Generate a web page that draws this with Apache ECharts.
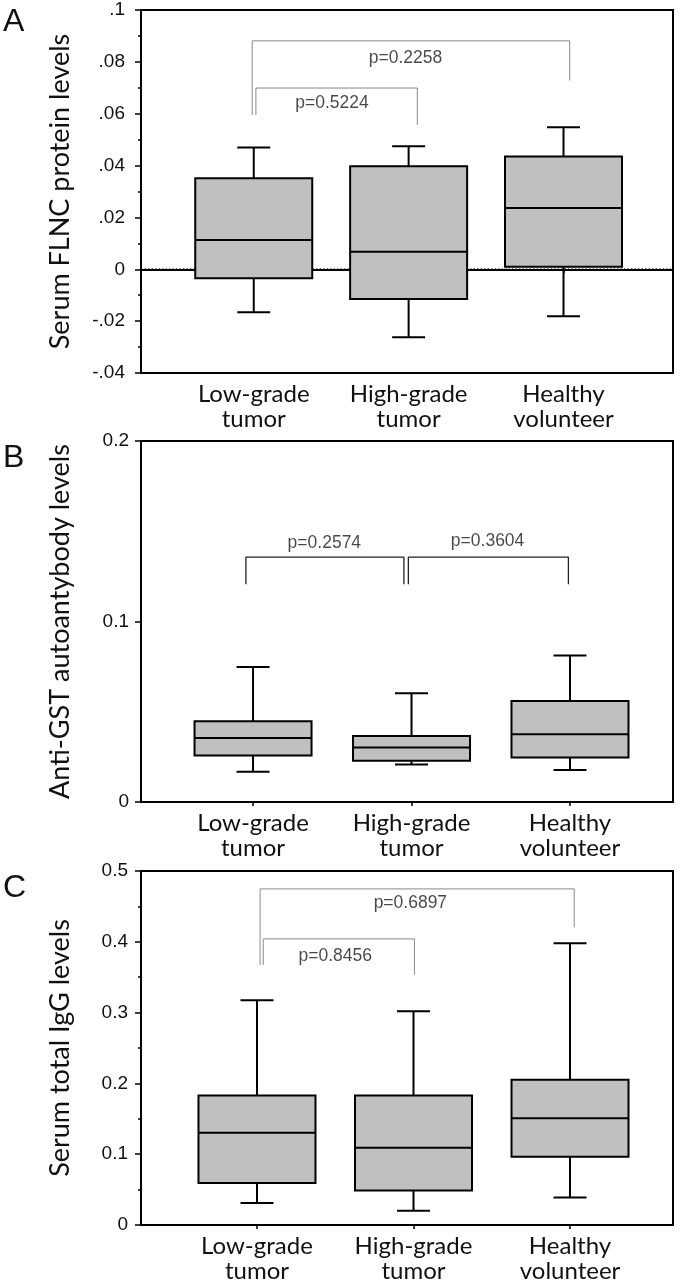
<!DOCTYPE html>
<html><head><meta charset="utf-8">
<script src="https://cdn.jsdelivr.net/npm/echarts@6/dist/echarts.min.js"></script>
<style>html,body{margin:0;padding:0;background:#fff}#c{width:685px;height:1284px}</style>
</head><body><div id="c"></div>
<script>
// ---------- data ----------
const categories = ['Low-grade\ntumor', 'High-grade\ntumor', 'Healthy\nvolunteer'];
const catPos = [1, 2, 3];
// [x, whiskerLow, Q1, median, Q3, whiskerHigh]
const boxA = [[1, -0.0166, -0.0035, 0.0113, 0.0351, 0.0470],
              [2, -0.0262, -0.0115, 0.0068, 0.0397, 0.0475],
              [3, -0.0181, 0.0010, 0.0236, 0.0435, 0.0548]];
const boxB = [[1, 0.0168, 0.0258, 0.0354, 0.0448, 0.0748],
              [2, 0.0208, 0.0229, 0.0302, 0.0365, 0.0603],
              [3, 0.0177, 0.0247, 0.0376, 0.0560, 0.0811]];
const boxC = [[1, 0.0309, 0.0594, 0.1304, 0.1830, 0.3175],
              [2, 0.0203, 0.0488, 0.1092, 0.1830, 0.3018],
              [3, 0.0387, 0.0963, 0.1507, 0.2050, 0.3980]];
const tickValsA = [-0.04, -0.02, 0, 0.02, 0.04, 0.06, 0.08, 0.1];
const tickLabelsA = ['-.04', '-.02', '0', '.02', '.04', '.06', '.08', '.1'];
const tickValsB = [0, 0.1, 0.2];
const tickLabelsB = ['0', '0.1', '0.2'];
const tickValsC = [0, 0.1, 0.2, 0.3, 0.4, 0.5];
const tickLabelsC = ['0', '0.1', '0.2', '0.3', '0.4', '0.5'];
const axisNames = ['Serum FLNC protein levels', 'Anti-GST autoantybody levels', 'Serum total IgG levels'];
const panelLetters = ['A', 'B', 'C'];
// comparison brackets: polyline points and p-value label
const bracketsA = [
  {pts: [[0.99, 0.0595], [0.99, 0.0881], [3.04, 0.0881], [3.04, 0.0728]], p: 'p=0.2258', at: [1.98, 0.0815]},
  {pts: [[1.014, 0.0595], [1.014, 0.0699], [2.056, 0.0699], [2.056, 0.0557]], p: 'p=0.5224', at: [1.505, 0.0641]}
];
const bracketsB = [
  {pts: [[0.955, 0.1206], [0.955, 0.1357], [1.952, 0.1357], [1.952, 0.1206]], p: 'p=0.2574', at: [1.45, 0.1436]},
  {pts: [[1.98, 0.1206], [1.98, 0.1357], [2.99, 0.1357], [2.99, 0.1206]], p: 'p=0.3604', at: [2.48, 0.1447]}
];
const bracketsC = [
  {pts: [[1.02, 0.3673], [1.02, 0.4747], [3.027, 0.4747], [3.027, 0.4203]], p: 'p=0.6897', at: [1.98, 0.4539]},
  {pts: [[1.04, 0.3673], [1.04, 0.4041], [2.006, 0.4041], [2.006, 0.3535]], p: 'p=0.8456', at: [1.50, 0.3800]}
];
const zeroLineA = [[0.272, 0], [3.707, 0]];

// ---------- layout / style ----------
const panels = [
  {top: 10, height: 363, xMin: 0.272, xMax: 3.707, yMin: -0.04, yMax: 0.1, interval: 0.02, minor: true,
   ticks: tickValsA, labels: tickLabelsA, boxes: boxA, brackets: bracketsA, bColor: '#8a8a8a', bWidth: 1, nameGap: 67, lblMargin: 16},
  {top: 441, height: 361, xMin: 0.293, xMax: 3.65, yMin: 0, yMax: 0.2, interval: 0.1, minor: false,
   ticks: tickValsB, labels: tickLabelsB, boxes: boxB, brackets: bracketsB, bColor: '#222', bWidth: 1.3, nameGap: 67, lblMargin: 12},
  {top: 871, height: 361, xMin: 0.259, xMax: 3.658, yMin: 0, yMax: 0.5, interval: 0.1, minor: true,
   ticks: tickValsC, labels: tickLabelsC, boxes: boxC, brackets: bracketsC, bColor: '#8a8a8a', bWidth: 1, nameGap: 67, lblMargin: 13}
];
const BOX_W = 117, CAP_W = 33;
const labelFont = 'Lato, "Open Sans", sans-serif';
const numFont = '"Liberation Sans", Arial, sans-serif';

function renderBox(params, api) {
  const x = api.value(0);
  const lo = api.coord([x, api.value(1)]);
  const q1 = api.coord([x, api.value(2)]);
  const md = api.coord([x, api.value(3)]);
  const q3 = api.coord([x, api.value(4)]);
  const hi = api.coord([x, api.value(5)]);
  const cx = md[0], hw = BOX_W / 2, cw = CAP_W / 2;
  const ls = {stroke: '#000', lineWidth: 2};
  return {type: 'group', children: [
    {type: 'line', shape: {x1: cx, y1: q3[1], x2: cx, y2: hi[1]}, style: ls},
    {type: 'line', shape: {x1: cx - cw, y1: hi[1], x2: cx + cw, y2: hi[1]}, style: ls},
    {type: 'line', shape: {x1: cx, y1: q1[1], x2: cx, y2: lo[1]}, style: ls},
    {type: 'line', shape: {x1: cx - cw, y1: lo[1], x2: cx + cw, y2: lo[1]}, style: ls},
    {type: 'rect', shape: {x: cx - hw, y: q3[1], width: BOX_W, height: q1[1] - q3[1]},
     style: {fill: '#c0c0c0', stroke: '#000', lineWidth: 2}},
    {type: 'line', shape: {x1: cx - hw, y1: md[1], x2: cx + hw, y2: md[1]}, style: ls}
  ]};
}

const grid = [], xAxis = [], yAxis = [], series = [], graphic = [];
panels.forEach((p, i) => {
  grid.push({left: 141, right: 12, top: p.top, height: p.height, show: true,
             borderColor: '#000', borderWidth: 2, backgroundColor: 'transparent', containLabel: false});
  xAxis.push({type: 'value', gridIndex: i, min: p.xMin, max: p.xMax,
    splitLine: {show: false},
    axisLine: {show: true, lineStyle: {color: '#000', width: 2}},
    axisTick: {show: true, customValues: catPos, length: 4, lineStyle: {color: '#000', width: 1.5}},
    axisLabel: {show: true, customValues: catPos, margin: 9,
      formatter: v => categories[Math.round(v) - 1],
      fontFamily: labelFont, fontSize: 24, lineHeight: 25, color: '#111'}
  });
  yAxis.push({type: 'value', gridIndex: i, min: p.yMin, max: p.yMax, interval: p.interval,
    name: axisNames[i], nameLocation: 'middle', nameGap: p.nameGap, nameRotate: 90,
    nameTextStyle: {fontFamily: labelFont, fontSize: 27, color: '#111'},
    splitLine: {show: false},
    axisLine: {show: true, lineStyle: {color: '#000', width: 2}},
    axisTick: {show: true, length: 6, lineStyle: {color: '#000', width: 1.5}},
    minorTick: {show: p.minor, splitNumber: 2, length: 3, lineStyle: {color: '#000', width: 1.5}},
    axisLabel: {margin: p.lblMargin, fontFamily: numFont, fontSize: 19, color: '#111',
      formatter: v => { const k = p.ticks.findIndex(t => Math.abs(t - v) < 1e-9); return k >= 0 ? p.labels[k] : ''; }}
  });
  if (i === 0) {
    series.push({type: 'line', xAxisIndex: i, yAxisIndex: i, data: zeroLineA, symbol: 'none', z: 1,
      lineStyle: {color: '#000', width: 1.5, type: [1.5, 2]}, silent: true});
  }
  series.push({type: 'custom', xAxisIndex: i, yAxisIndex: i, data: p.boxes, renderItem: renderBox,
    encode: {x: 0, y: [1, 2, 3, 4, 5]}, z: 3, clip: false});
  p.brackets.forEach(b => {
    series.push({type: 'line', xAxisIndex: i, yAxisIndex: i, data: b.pts, symbol: 'none', z: 2,
      lineStyle: {color: p.bColor, width: p.bWidth}, silent: true});
    series.push({type: 'scatter', xAxisIndex: i, yAxisIndex: i, data: [b.at], symbolSize: 0, z: 4,
      label: {show: true, position: 'inside', formatter: b.p, fontFamily: numFont, fontSize: 17.5, color: '#1a1a1a'}});
  });
  graphic.push({type: 'text', left: 3, top: p.top - 4 + (i === 0 ? 0 : 5),
    style: {text: panelLetters[i], font: '32px "Liberation Sans", Arial, sans-serif', fill: '#111'}});
});

const chart = echarts.init(document.getElementById('c'), null, {renderer: 'canvas'});
chart.setOption({animation: false, grid, xAxis, yAxis, series, graphic});
</script></body></html>
